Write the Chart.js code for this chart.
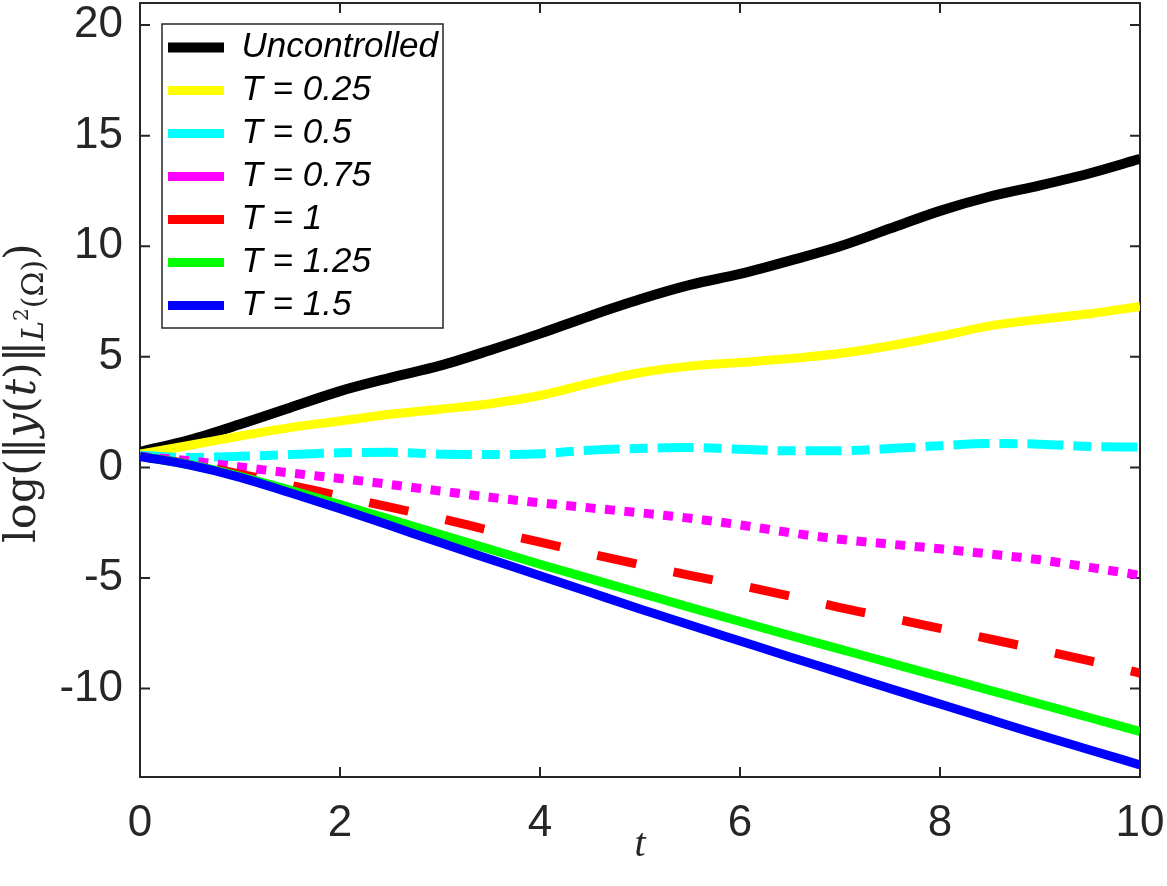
<!DOCTYPE html>
<html>
<head>
<meta charset="utf-8">
<title>log norm of y(t)</title>
<script src="https://cdn.jsdelivr.net/npm/chart.js@4.4.1/dist/chart.umd.min.js"></script>
<style>
  html, body { margin: 0; padding: 0; background: #fff; }
  canvas { display: block; }
</style>
</head>
<body>
<canvas id="chart" width="1167" height="886"></canvas>
<script>
// --- datos ---
const tValues = [0, 0.5, 1, 1.5, 2, 2.5, 3, 3.5, 4, 4.5, 5, 5.5, 6, 6.5, 7, 7.5, 8, 8.5, 9, 9.5, 10];

const uncontrolled = [0.7, 1.25, 1.95, 2.7, 3.45, 4.05, 4.6, 5.3, 6.05, 6.85, 7.6, 8.25, 8.75, 9.35, 10.0, 10.8, 11.6, 12.25, 12.75, 13.3, 13.95];
const t025 = [0.6, 1.0, 1.42, 1.8, 2.1, 2.4, 2.63, 2.88, 3.25, 3.8, 4.28, 4.58, 4.74, 4.92, 5.15, 5.5, 5.93, 6.4, 6.7, 6.95, 7.28];
const t05 = [0.55, 0.45, 0.5, 0.58, 0.66, 0.68, 0.6, 0.58, 0.62, 0.78, 0.86, 0.9, 0.82, 0.75, 0.75, 0.85, 0.98, 1.08, 1.05, 0.95, 0.92];
const t075 = [0.5, 0.3, 0.02, -0.25, -0.5, -0.77, -1.07, -1.35, -1.6, -1.83, -2.05, -2.3, -2.6, -2.95, -3.25, -3.47, -3.68, -3.92, -4.18, -4.52, -4.88];
const t1 = [0.5, 0.15, -0.3, -0.8, -1.3, -1.8, -2.3, -2.85, -3.38, -3.9, -4.4, -4.88, -5.33, -5.82, -6.34, -6.8, -7.28, -7.76, -8.25, -8.75, -9.3];
const t125 = [0.5, 0.12, -0.4, -1.02, -1.68, -2.35, -3.03, -3.7, -4.38, -5.03, -5.68, -6.33, -6.97, -7.6, -8.22, -8.84, -9.46, -10.08, -10.7, -11.32, -11.94];
const t15 = [0.5, 0.1, -0.45, -1.15, -1.87, -2.63, -3.4, -4.15, -4.9, -5.65, -6.4, -7.13, -7.85, -8.57, -9.28, -10.0, -10.7, -11.4, -12.1, -12.78, -13.45];

const seriesNames = ['Uncontrolled', 'T = 0.25', 'T = 0.5', 'T = 0.75', 'T = 1', 'T = 1.25', 'T = 1.5'];
const xTickValues = [0, 2, 4, 6, 8, 10];
const yTickValues = [-10, -5, 0, 5, 10, 15, 20];

const axisColor = '#262626';

// estilo de cada curva (color, trazo)
const lineStyles = [
    { color: '#000000', dash: [] },
    { color: '#ffff00', dash: [] },
    { color: '#00ffff', dash: [36, 10, 18, 10] },
    { color: '#ff00ff', dash: [10, 9.5] },
    { color: '#ff0000', dash: [40, 38] },
    { color: '#00ff00', dash: [] },
    { color: '#0000ff', dash: [] }
];

const seriesValues = [uncontrolled, t025, t05, t075, t1, t125, t15];

const datasets = seriesValues.map((values, i) => ({
    label: seriesNames[i],
    data: tValues.map((t, j) => ({ x: t, y: values[j] })),
    borderColor: lineStyles[i].color,
    backgroundColor: lineStyles[i].color,
    borderDash: lineStyles[i].dash,
    borderWidth: i === 0 ? 10 : 9,
    borderCapStyle: 'butt',
    borderJoinStyle: 'round',
    pointRadius: 0,
    pointStyle: 'line',
    cubicInterpolationMode: 'monotone',
    fill: false,
    order: seriesValues.length - i   // la ultima serie queda encima
}));

// quitar el relleno que Chart.js reserva para las etiquetas de los extremos
function noScalePadding(scale) {
    scale.paddingTop = 0;
    scale.paddingBottom = 0;
    scale.paddingLeft = 0;
    scale.paddingRight = 0;
}

// --- marco del eje con ticks hacia dentro (estilo MATLAB) ---
const axesBoxPlugin = {
    id: 'axesBox',
    beforeDatasetsDraw(chart) {
        const { ctx, chartArea: a, scales } = chart;
        ctx.save();
        ctx.strokeStyle = axisColor;
        ctx.lineWidth = 2;
        ctx.strokeRect(a.left, a.top, a.right - a.left, a.bottom - a.top);
        const tick = 10;
        ctx.beginPath();
        xTickValues.forEach(v => {
            const px = scales.x.getPixelForValue(v);
            ctx.moveTo(px, a.bottom); ctx.lineTo(px, a.bottom - tick);
            ctx.moveTo(px, a.top); ctx.lineTo(px, a.top + tick);
        });
        yTickValues.forEach(v => {
            const py = scales.y.getPixelForValue(v);
            ctx.moveTo(a.left, py); ctx.lineTo(a.left + tick, py);
            ctx.moveTo(a.right, py); ctx.lineTo(a.right - tick, py);
        });
        ctx.stroke();
        ctx.restore();
    },
    afterDraw(chart) {
        // recuadro de la leyenda
        const legend = chart.legend;
        if (!legend || !legend.legendHitBoxes.length) return;
        const boxes = legend.legendHitBoxes;
        const left = Math.min(...boxes.map(b => b.left)) - 6;
        const right = Math.max(...boxes.map(b => b.left + b.width)) + 5;
        const top = boxes[0].top - 6;
        const last = boxes[boxes.length - 1];
        const bottom = last.top + last.height + 5;
        const ctx = chart.ctx;
        ctx.save();
        ctx.strokeStyle = axisColor;
        ctx.lineWidth = 1.5;
        ctx.strokeRect(left, top, right - left, bottom - top);
        ctx.restore();
    }
};

// mover la leyenda dentro del area (esquina superior izquierda)
const legendOffsetPlugin = {
    id: 'legendOffset',
    afterLayout(chart) {
        if (chart.legend) {
            chart.legend.left = chart.chartArea.left + 20;
            chart.legend.top = chart.chartArea.top + 19;
        }
    }
};

// titulo del eje Y con subindices, estilo LaTeX
const yTitlePlugin = {
    id: 'yTitle',
    afterDraw(chart) {
        const ctx = chart.ctx;
        const serif = '"DejaVu Serif", "Liberation Serif", serif';
        const parts = [
            { text: 'log(', size: 43, style: 'normal', dy: 0 },
            { text: '\u2016', size: 43, style: 'normal', dy: 0 },
            { text: 'y', size: 43, style: 'italic', dy: 0 },
            { text: '(', size: 43, style: 'normal', dy: 0 },
            { text: 't', size: 43, style: 'italic', dy: 0 },
            { text: ')', size: 43, style: 'normal', dy: 0 },
            { text: '\u2016', size: 43, style: 'normal', dy: 0 },
            { text: 'L', size: 30, style: 'italic', dy: 8 },
            { text: '2', size: 20, style: 'normal', dy: -7 },
            { text: '(\u03A9)', size: 30, style: 'normal', dy: 8 },
            { text: ')', size: 43, style: 'normal', dy: 0 }
        ];
        ctx.save();
        let total = 0;
        parts.forEach(p => {
            ctx.font = `${p.style} ${p.size}px ${serif}`;
            p.w = ctx.measureText(p.text).width;
            total += p.w;
        });
        ctx.translate(35, 393);
        ctx.rotate(-Math.PI / 2);
        ctx.fillStyle = axisColor;
        ctx.textBaseline = 'alphabetic';
        let x = -total / 2;
        parts.forEach(p => {
            ctx.font = `${p.style} ${p.size}px ${serif}`;
            ctx.fillText(p.text, x, p.dy);
            x += p.w;
        });
        ctx.restore();
    }
};

const ctx = document.getElementById('chart');

new Chart(ctx, {
    type: 'line',
    data: { datasets },
    plugins: [axesBoxPlugin, legendOffsetPlugin, yTitlePlugin],
    options: {
        responsive: false,
        animation: false,
        events: [],
        devicePixelRatio: 1,
        layout: {
            autoPadding: false,
            padding: { left: 0, right: 27, top: 3, bottom: 0 }
        },
        scales: {
            x: {
                type: 'linear',
                min: 0,
                max: 10,
                afterBuildTicks: scale => { scale.ticks = xTickValues.map(v => ({ value: v })); },
                afterFit: scale => { scale.height = 109; noScalePadding(scale); },
                grid: { display: false, drawTicks: false },
                border: { display: false },
                ticks: {
                    color: axisColor,
                    padding: 20,
                    maxRotation: 0,
                    font: { family: '"Liberation Sans", Arial, sans-serif', size: 44 }
                },
                title: {
                    display: true,
                    text: 't',
                    color: axisColor,
                    padding: { top: 0, bottom: 17 },
                    font: { family: '"Liberation Serif", "DejaVu Serif", serif', size: 40, style: 'italic' }
                }
            },
            y: {
                type: 'linear',
                min: -14,
                max: 21,
                afterBuildTicks: scale => { scale.ticks = yTickValues.map(v => ({ value: v })); },
                afterFit: scale => { scale.width = 140; noScalePadding(scale); },
                grid: { display: false, drawTicks: false },
                border: { display: false },
                ticks: {
                    color: axisColor,
                    padding: 17,
                    font: { family: '"Liberation Sans", Arial, sans-serif', size: 44 }
                }
            }
        },
        plugins: {
            tooltip: { enabled: false },
            legend: {
                position: 'chartArea',
                align: 'start',
                labels: {
                    usePointStyle: true,
                    pointStyleWidth: 56,
                    padding: 8,
                    color: '#000000',
                    font: { family: '"Liberation Sans", Arial, sans-serif', size: 35, style: 'italic' },
                    sort: (a, b) => a.datasetIndex - b.datasetIndex
                }
            }
        }
    }
});
</script>
</body>
</html>
